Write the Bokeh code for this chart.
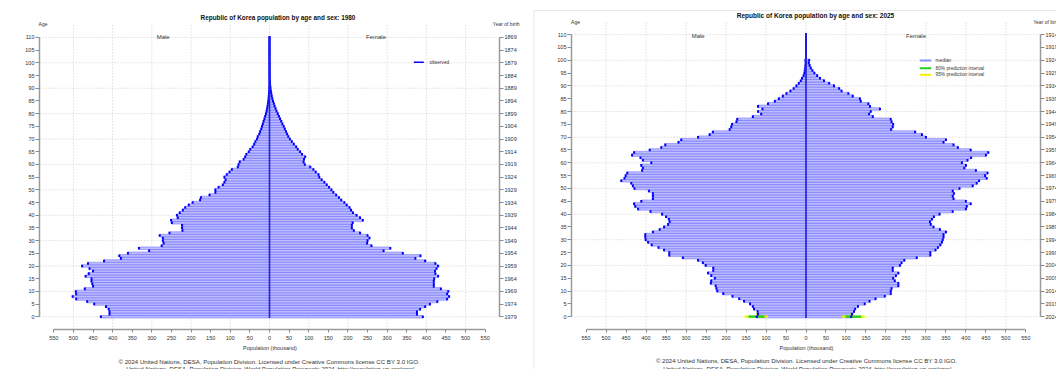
from bokeh.plotting import figure
from bokeh.models import Range1d, FixedTicker, LinearAxis, Label, ColumnDataSource
from bokeh.layouts import row
from bokeh.embed import file_html
from bokeh.resources import INLINE

ages = list(range(0, 111))

male_1980 = [430, 408, 408, 410, 417, 447, 465, 493, 502, 493,
             494, 471, 450, 452, 454, 454, 469, 461, 450, 459,
             478, 463, 422, 379, 383, 361, 307, 333, 275, 270,
             272, 272, 280, 255, 222, 223, 223, 249, 251, 234,
             236, 229, 221, 215, 206, 196, 177, 175, 153, 138,
             138, 130, 119, 115, 112, 115, 109, 102, 96, 81,
             79, 76, 66, 62, 59, 53, 49, 43, 39, 36,
             32, 30, 26, 24, 21, 19, 17, 15, 13, 11,
             9, 7.5, 6.2, 5, 4, 3.1, 2.4, 1.8, 1.3, 0.9,
             0.6, 0.4, 0.3, 0.2, 0.1, 0.1, 0, 0, 0, 0,
             0, 0, 0, 0, 0, 0, 0, 0, 0, 0, 0]
female_1980 = [391, 376, 376, 384, 397, 409, 428, 453, 458, 453,
               456, 437, 419, 419, 419, 420, 430, 423, 422, 426,
               430, 423, 397, 372, 385, 340, 291, 308, 260, 249,
               250, 255, 250, 231, 215, 210, 210, 212, 238, 231,
               222, 213, 208, 204, 197, 191, 183, 177, 170, 163,
               158, 152, 146, 140, 133, 127, 125, 118, 112, 104,
               90, 87, 88, 91, 83, 78, 72, 68, 62, 57,
               52, 48, 45, 42, 39, 36, 33, 30, 27, 24,
               21, 18, 15.5, 13, 11, 9, 7.2, 5.7, 4.4, 3.4,
               2.5, 1.8, 1.3, 0.9, 0.6, 0.4, 0.3, 0.2, 0.1, 0.1,
               0, 0, 0, 0, 0, 0, 0, 0, 0, 0, 0]
male_2025 = [123, 120, 121, 130, 133, 140, 155, 167, 184, 207,
             222, 224, 226, 238, 237, 228, 237, 245, 232, 232,
             251, 258, 270, 308, 342, 342, 355, 369, 386, 395,
             401, 402, 402, 383, 366, 355, 345, 341, 343, 350,
             360, 389, 420, 427, 430, 412, 383, 383, 383, 393,
             429, 433, 437, 462, 454, 451, 447, 410, 408, 412,
             387, 408, 414, 435, 430, 391, 362, 352, 319, 312,
             270, 241, 233, 191, 187, 185, 174, 172, 133, 112,
             120, 109, 120, 95, 78, 68, 58, 49, 39, 31,
             24, 18, 13, 10, 6, 4, 3, 2, 1.4, 1,
             1.5, 0, 0, 0, 0, 0, 0, 0, 0, 0, 0]
female_2025 = [113, 115, 120, 123, 130, 147, 159, 174, 197, 212,
               212, 214, 231, 231, 222, 218, 225, 231, 217, 217,
               235, 239, 246, 277, 311, 311, 324, 330, 336, 340,
               342, 344, 344, 350, 335, 319, 312, 310, 315, 320,
               334, 367, 400, 402, 412, 400, 369, 367, 370, 367,
               384, 417, 427, 433, 452, 448, 454, 425, 396, 400,
               390, 404, 413, 450, 456, 412, 380, 369, 344, 350,
               300, 290, 273, 213, 217, 218, 214, 212, 167, 158,
               162, 185, 160, 156, 137, 135, 117, 106, 89, 83,
               70, 58, 45, 35, 28, 21, 16, 12, 9, 7,
               8, 0, 0, 0, 0, 0, 0, 0, 0, 0, 0]

# 2025 prediction intervals (ages 0..2)
pi_ages = [0, 1, 2]
male_2025_pi95 = [(95, 154), (116, 124), (119, 123)]
male_2025_pi80 = [(104, 144), (117, 123), (120, 122)]
female_2025_pi95 = [(90, 147), (111, 119), (118, 122)]
female_2025_pi80 = [(99, 138), (112, 118), (119, 121)]

x_ticks = list(range(-550, 551, 50))
x_tick_labels = [str(abs(t)) for t in x_ticks]
age_ticks = list(range(0, 111, 5))
x_grid = list(range(-500, 501, 100))
age_grid = list(range(0, 111, 10))
X_LIM = (-586.5, 586.5)
Y_LIM = (-5.0, 115.1)

FONT = "Liberation Sans"
FOOT1 = "\u00a9 2024 United Nations, DESA, Population Division. Licensed under Creative Commons license CC BY 3.0 IGO."
FOOT2a = "United Nations, DESA, Population Division."
FOOT2b = "World Population Prospects 2024"
FOOT2c = ". http://population.un.org/wpp/"


def style_axis(ax, tick_out=3, standoff=2):
    ax.axis_line_color = "#9a9a9a"
    ax.axis_line_width = 1.5
    ax.major_tick_line_color = "#8a8a8a"
    ax.major_tick_out = tick_out
    ax.major_tick_in = 0
    ax.minor_tick_line_color = None
    ax.major_label_text_font = FONT
    ax.major_label_text_font_size = "5.5px"
    ax.major_label_text_color = "#333333"
    ax.major_label_standoff = standoff


def make_chart(male, female, last_birth, year, geom, legend, pis=None, frame_box=None):
    # geom: page x of figure, width, height, plot region (page px) fx0, fx1, fy0, fy1
    ox, W, H, fx0, fx1, fy0, fy1 = geom
    kx = (X_LIM[1] - X_LIM[0]) / (fx1 - fx0)
    ky = (Y_LIM[1] - Y_LIM[0]) / (fy1 - fy0)
    xr = (X_LIM[0] - (fx0 - ox) * kx, X_LIM[1] + (ox + W - fx1) * kx)
    yr = (Y_LIM[0] - (H - fy1) * ky, Y_LIM[1] + fy0 * ky)

    p = figure(width=W, height=H, x_range=Range1d(*xr), y_range=Range1d(*yr),
               output_backend="svg", toolbar_location=None,
               min_border_left=0, min_border_right=0, min_border_top=0, min_border_bottom=0)
    p.outline_line_color = None
    p.background_fill_color = "white"
    p.border_fill_color = "white"

    def X(px):
        return X_LIM[0] + (px - fx0) * kx

    def Y(py):
        return Y_LIM[1] - (py - fy0) * ky

    if frame_box is not None:
        bx, by = frame_box
        p.segment(x0=[X(bx), X(bx)], y0=[Y(by), Y(by)], x1=[X(bx), xr[1]], y1=[yr[0], Y(by)],
                  line_color="#e6e6e6", line_width=1)

    # axes drawn at the edges of the plot region
    xa = p.xaxis[0]
    xa.ticker = FixedTicker(ticks=x_ticks)
    xa.major_label_overrides = {t: l for t, l in zip(x_ticks, x_tick_labels)}
    xa.bounds = (x_ticks[0], x_ticks[-1])
    xa.fixed_location = Y_LIM[0]
    style_axis(xa, tick_out=3, standoff=3)
    ya = p.yaxis[0]
    ya.ticker = FixedTicker(ticks=age_ticks)
    ya.bounds = (age_ticks[0], age_ticks[-1])
    ya.fixed_location = X_LIM[0]
    style_axis(ya, tick_out=4, standoff=1)
    ra = LinearAxis(ticker=FixedTicker(ticks=age_ticks))
    ra.major_label_overrides = {a: str(last_birth - a) for a in age_ticks}
    ra.bounds = (age_ticks[0], age_ticks[-1])
    ra.fixed_location = X_LIM[1]
    style_axis(ra, tick_out=4, standoff=1)
    p.add_layout(ra, "right")

    # dotted grid inside the plot region
    p.grid.visible = False
    p.segment(x0=x_grid, y0=[Y_LIM[0]] * len(x_grid), x1=x_grid, y1=[Y_LIM[1]] * len(x_grid),
              line_color="#cfcfcf", line_dash="1 2", line_width=1)
    p.segment(x0=[X_LIM[0]] * len(age_grid), y0=age_grid, x1=[X_LIM[1]] * len(age_grid), y1=age_grid,
              line_color="#cfcfcf", line_dash="1 2", line_width=1)

    src = ColumnDataSource(dict(
        age=ages,
        m=[-v for v in male],
        f=female,
        y0=[a - 0.5 for a in ages],
        y1=[a + 0.5 for a in ages],
    ))
    for col in ("m", "f"):
        p.hbar(y="age", left=0, right=col, height=1.0, source=src,
               fill_color="#bcbcff", line_color="#5a5aff", line_width=0.45)

    if pis is not None:
        mp95, mp80, fp95, fp80 = pis
        for data, sign in ((mp95, -1), (fp95, 1)):
            p.hbar(y=pi_ages, left=[sign * a for a, b in data], right=[sign * b for a, b in data],
                   height=0.9, fill_color="#f2f200", line_color=None)
        for data, sign in ((mp80, -1), (fp80, 1)):
            p.hbar(y=pi_ages, left=[sign * a for a, b in data], right=[sign * b for a, b in data],
                   height=0.9, fill_color="#1fd01f", line_color=None)

    for col in ("m", "f"):
        p.segment(x0=col, y0="y0", x1=col, y1="y1", source=src,
                  line_color="#0000ff", line_width=2)

    p.segment(x0=[0], y0=[ages[0] - 0.5], x1=[0], y1=[ages[-1] + 0.5],
              line_color="#2323d8", line_width=1.6)

    def lab(px, py, text, size="5.5px", align="center", style="normal", color="#333333"):
        p.add_layout(Label(x=X(px), y=Y(py), text=text, text_font=FONT,
                           text_font_size=size, text_align=align, text_baseline="middle",
                           text_font_style=style, text_color=color))

    t = geom_text[year]
    lab(*t["title"], "Republic of Korea population by age and sex: " + year, size=t["title_size"],
        style="bold", color="#111111")
    lab(*t["age"], "Age", size="5px")
    lab(*t["yob"], "Year of birth", size="5px", align=t["yob_align"])
    lab(*t["male"], "Male", size="6px")
    lab(*t["female"], "Female", size="6px")
    lab(*t["xlab"], "Population (thousand)", size="5.5px")
    lab(*t["foot1"], FOOT1, size="6.1px")
    cx, cy = t["foot2"]
    lab(cx - 27.0, cy, FOOT2a, size="6.1px", align="right")
    lab(cx - 26.0, cy, FOOT2b, size="6.1px", align="left", style="italic")
    lab(cx + 64.0, cy, FOOT2c, size="6.1px", align="left")

    lx0, lx1, tx = t["leg_x"]
    for (name, color, width), ly in zip(legend, t["leg_y"]):
        p.segment(x0=[X(lx0)], y0=[Y(ly)], x1=[X(lx1)], y1=[Y(ly)],
                  line_color=color, line_width=width)
        lab(tx, ly, name, size="4.8px", align="left")
    return p


# text positions in page pixels (x, y)
geom_text = {
    "1980": dict(title=(277.5, 16.7), title_size="6.4px", age=(42.5, 23.3), yob=(505.7, 23.3),
                 yob_align="center", male=(162.7, 36.7), female=(375.5, 36.7), xlab=(269.5, 347.6),
                 foot1=(268.6, 360.6), foot2=(269.5, 368.0),
                 leg_x=(413.3, 423.3, 429.0), leg_y=[61.7]),
    "2025": dict(title=(815.0, 15.2), title_size="6.5px", age=(575.0, 21.7), yob=(1032.7, 21.7),
                 yob_align="left", male=(697.7, 35.0), female=(915.5, 35.0), xlab=(806.0, 347.7),
                 foot1=(806.0, 360.2), foot2=(806.5, 368.0),
                 leg_x=(919.3, 930.7, 935.0), leg_y=[60.0, 67.7, 74.3]),
}

p1 = make_chart(male_1980, female_1980, 1979, "1980",
                (0, 528, 369, 39, 499, 24, 329),
                [("observed", "#0000ff", 1.5)])
p2 = make_chart(male_2025, female_2025, 2024, "2025",
                (528, 528, 369, 571, 1040, 21, 329),
                [("median", "#8c8cff", 2), ("80% prediction interval", "#1fd01f", 2),
                 ("95% prediction interval", "#f2f200", 2)],
                pis=(male_2025_pi95, male_2025_pi80, female_2025_pi95, female_2025_pi80),
                frame_box=(533.5, 10.0))

layout = row(p1, p2)
open("out.html", "w").write(file_html(layout, INLINE))
